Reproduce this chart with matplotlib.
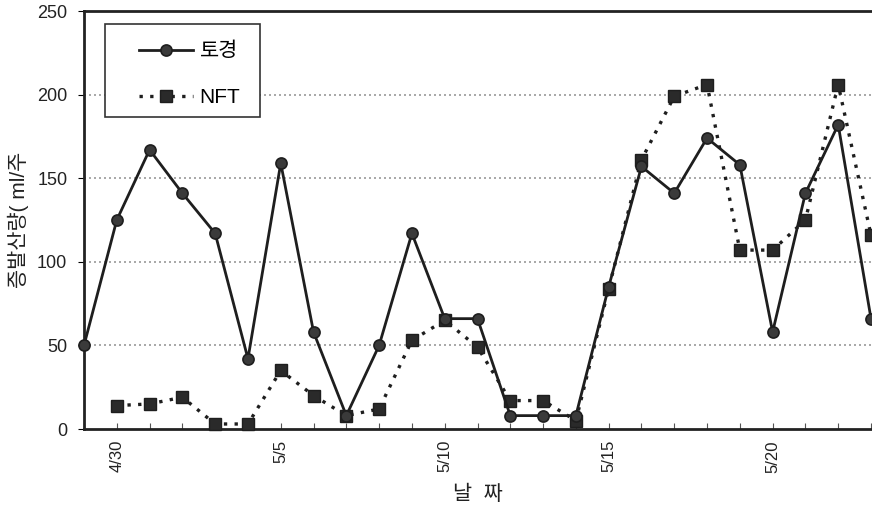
import matplotlib
matplotlib.use("Agg")
import matplotlib.pyplot as plt
from matplotlib.patches import Rectangle
from matplotlib.ticker import MultipleLocator

plt.rcParams['font.family'] = ['Liberation Sans', 'Noto Sans CJK KR', 'DejaVu Sans']

# Days from 4/29 to 5/23
dates = ['4/29', '4/30', '5/1', '5/2', '5/3', '5/4', '5/5', '5/6', '5/7', '5/8',
         '5/9', '5/10', '5/11', '5/12', '5/13', '5/14', '5/15', '5/16', '5/17',
         '5/18', '5/19', '5/20', '5/21', '5/22', '5/23']
soil = [50, 125, 167, 141, 117, 42, 159, 58, 8, 50,
        117, 66, 66, 8, 8, 8, 85, 157, 141, 174, 158, 58, 141, 182, 66]
nft = [None, 14, 15, 19, 3, 3, 35, 20, 8, 12,
       53, 65, 49, 17, 17, 5, 84, 161, 199, 206, 107, 107, 125, 206, 116]
tick_labels = ['4/30', '5/5', '5/10', '5/15', '5/20']
series_names = ['토경', 'NFT']

x = list(range(len(dates)))
nft_x = [i for i, v in zip(x, nft) if v is not None]
nft_y = [v for v in nft if v is not None]

fig = plt.figure(figsize=(8.72, 5.08), dpi=100)
ax = fig.add_axes([84 / 872, 1 - 429 / 508, (871 - 84) / 872, 418 / 508])

ink = '#1e1e1e'
ax.plot(x, soil, color=ink, lw=2.0, marker='o', ms=8, mfc='#3a3a3a', mec=ink,
        mew=1.2, label=series_names[0], zorder=4, clip_on=False)
ax.plot(nft_x, nft_y, color=ink, lw=2.4, ls=(0, (1, 2.2)), marker='s', ms=9,
        mfc='#2a2a2a', mec=ink, label=series_names[1], zorder=3, clip_on=False)

ax.set_xlim(0, len(dates) - 1)
ax.set_ylim(0, 250)
ax.yaxis.set_major_locator(MultipleLocator(50))
ax.set_xticks([dates.index(t) for t in tick_labels])
ax.set_xticklabels(tick_labels, rotation=90, fontsize=12)
ax.set_xticks(x, minor=True)
ax.tick_params(axis='x', which='both', direction='in', length=4, width=0.8,
               colors='#555555', labelcolor='#222222', pad=8)
ax.tick_params(axis='y', direction='out', length=4, width=0.8,
               labelsize=13, labelcolor='#222222', pad=8)

for yv in [50, 100, 150, 200]:
    ax.axhline(yv, color='#9a9a9a', lw=1.2, ls=(0, (1.2, 1.8)), zorder=1)

for side in ['left', 'bottom', 'top']:
    ax.spines[side].set_linewidth(2.0)
    ax.spines[side].set_color('#222222')
ax.spines['right'].set_visible(False)

ax.set_ylabel('증발산량( ml/주', fontsize=15, labelpad=6, color='#222222')
ax.set_xlabel('날  짜', fontsize=15, labelpad=9, color='#222222')

# Legend box and entries
ax.add_patch(Rectangle((0.0267, 0.746), 0.197, 0.223, transform=ax.transAxes,
                       facecolor='white', edgecolor='#333333', lw=1.2, zorder=5))
leg = ax.legend(loc='upper left', bbox_to_anchor=(0.07, 0.9257), fontsize=15,
                frameon=False, handlelength=2.6, borderpad=0, labelspacing=1.29,
                handletextpad=0.3, borderaxespad=0)
leg.set_zorder(6)

fig.savefig('out.png', dpi=100)
